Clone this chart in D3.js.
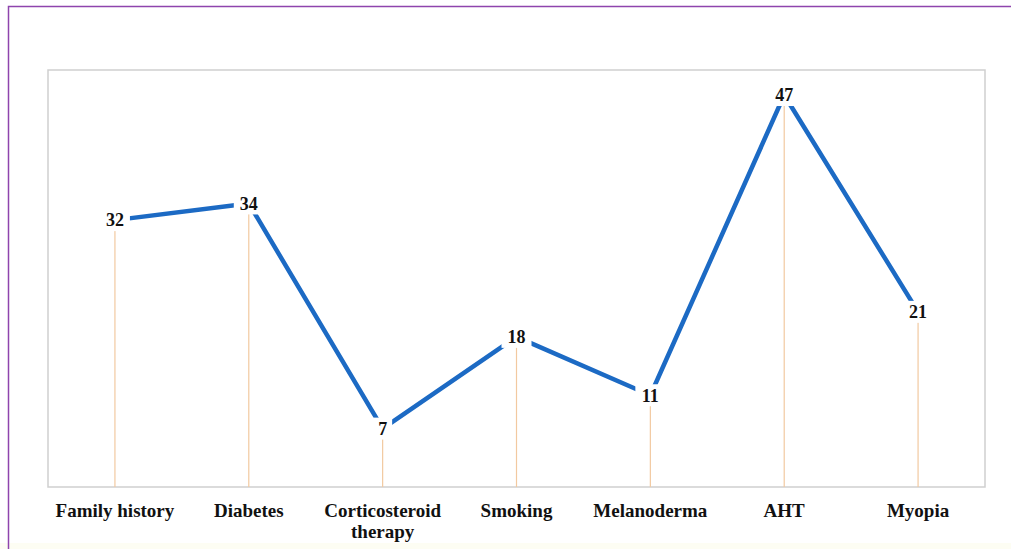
<!DOCTYPE html>
<html><head><meta charset="utf-8">
<script src="https://cdn.jsdelivr.net/npm/d3@7"></script>
<style>
html,body{margin:0;padding:0;background:#fff;}
svg{display:block;}
</style></head>
<body>
<script>
const categories = ["Family history","Diabetes","Corticosteroid therapy","Smoking","Melanoderma","AHT","Myopia"];
const values = [32,34,7,18,11,47,21];
const yDomain = [0,50];

const W=1011,H=549;
const svg=d3.select("body").append("svg").attr("width",W).attr("height",H);
svg.append("rect").attr("x",0).attr("y",543).attr("width",W).attr("height",6).attr("fill","#fdfdf3");
// purple frame
svg.append("path").attr("d",`M8.5,${H+5} L8.5,6.5 L${W+5},6.5`).attr("fill","none").attr("stroke","#8e44ad").attr("stroke-width",1.5);

const m={l:48,t:70,r:985,b:487};
const x=d3.scaleBand().domain(categories).range([m.l,m.r]);
const y=d3.scaleLinear().domain(yDomain).range([m.b,m.t]);

svg.append("rect").attr("x",m.l).attr("y",m.t).attr("width",m.r-m.l).attr("height",m.b-m.t)
  .attr("fill","none").attr("stroke","#cfcfcf").attr("stroke-width",1.5);

const cx=d=>x(d)+x.bandwidth()/2;
const data=categories.map((c,i)=>({c,v:values[i]}));

svg.selectAll(".drop").data(data).enter().append("line")
  .attr("x1",d=>cx(d.c)).attr("x2",d=>cx(d.c))
  .attr("y1",d=>y(d.v)).attr("y2",m.b)
  .attr("stroke","#f2c9a0").attr("stroke-width",1.2);

const line=d3.line().x(d=>cx(d.c)).y(d=>y(d.v));
svg.append("path").datum(data).attr("d",line).attr("fill","none")
  .attr("stroke","#1c6ac4").attr("stroke-width",4.5).attr("stroke-linejoin","round");

const lab=svg.selectAll(".lab").data(data).enter().append("g")
  .attr("transform",d=>`translate(${cx(d.c)},${y(d.v)})`);
lab.append("rect").attr("x",d=>-String(d.v).length*5.5-4).attr("y",-11)
  .attr("width",d=>String(d.v).length*11+8).attr("height",22).attr("fill","#fff");
lab.append("text").attr("text-anchor","middle").attr("dy","0.35em")
  .attr("font-family","'Liberation Serif','Times New Roman',serif").attr("font-weight","bold")
  .attr("font-size",18).attr("fill","#111").text(d=>d.v);

const xa=svg.append("g").attr("transform",`translate(0,${m.b})`)
  .call(d3.axisBottom(x).tickSize(0).tickPadding(0));
xa.select(".domain").remove();
xa.selectAll("text").remove();
xa.selectAll(".tick").each(function(d){
  const g=d3.select(this);
  const words=d==="Corticosteroid therapy"?["Corticosteroid","therapy"]:[d];
  words.forEach((w,i)=>g.append("text").attr("y",30+i*21).attr("text-anchor","middle")
    .attr("font-family","'Liberation Serif','Times New Roman',serif").attr("font-weight","bold")
    .attr("font-size",19).attr("fill","#111").text(w));
});
</script>
</body></html>
